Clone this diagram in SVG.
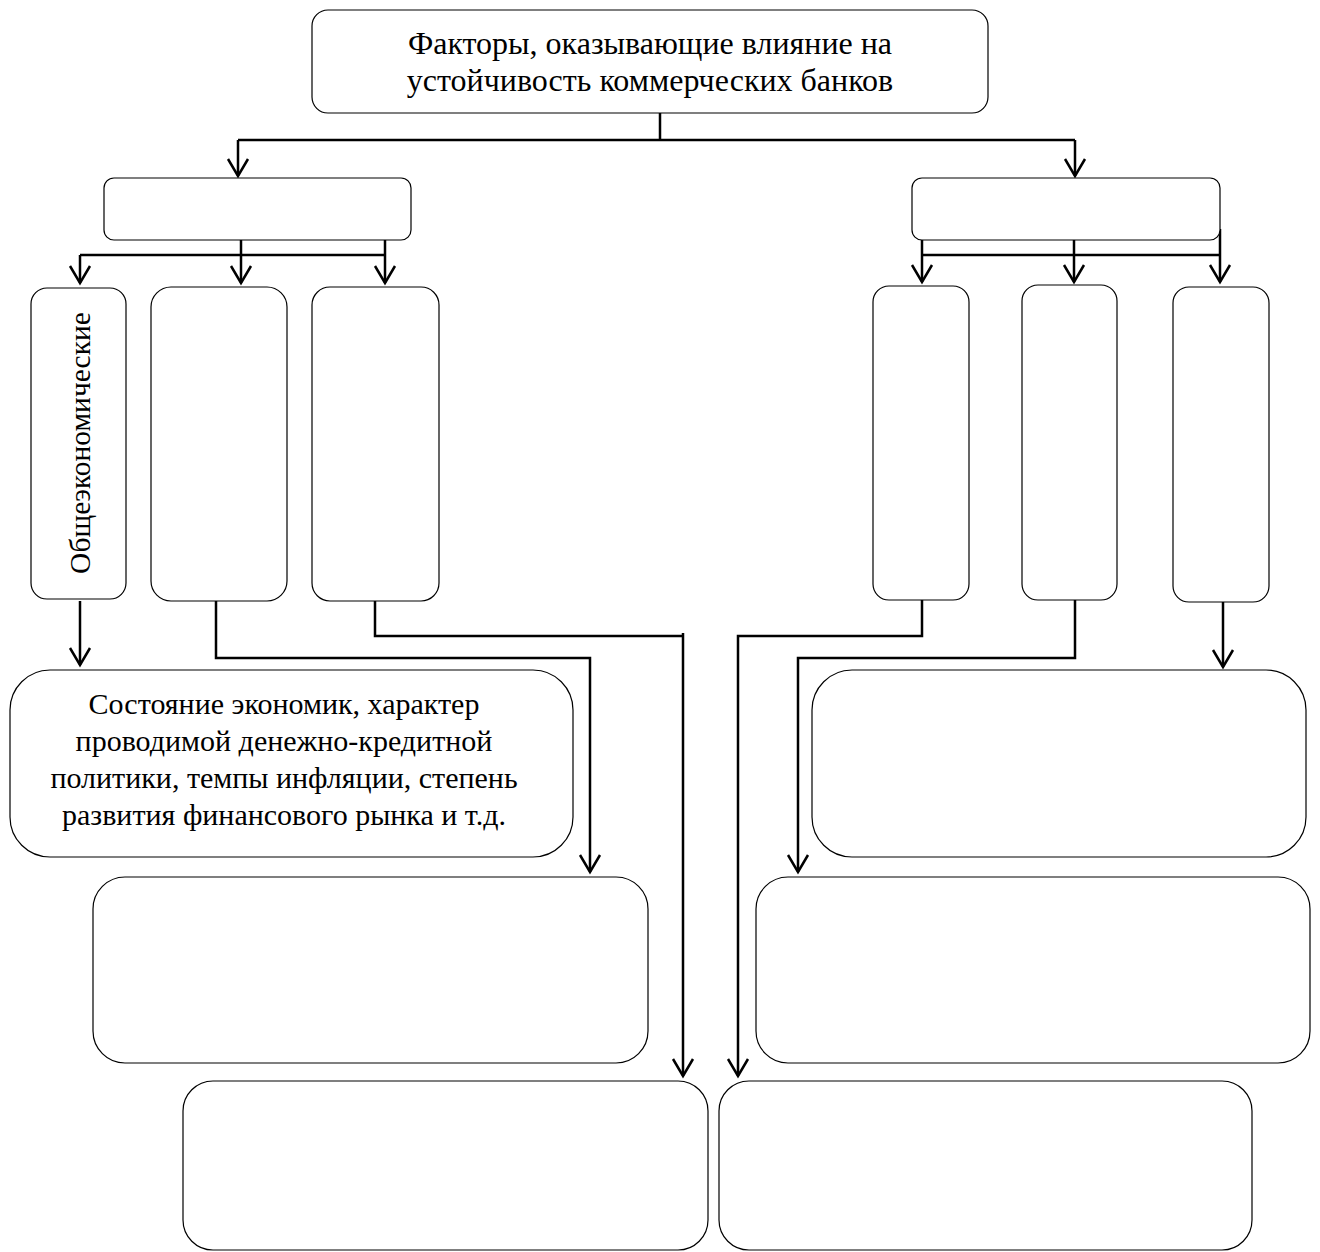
<svg xmlns="http://www.w3.org/2000/svg" width="1320" height="1252" viewBox="0 0 1320 1252">
<style>
.box{fill:#fff;stroke:#000;stroke-width:1.2}
.ln{fill:none;stroke:#000;stroke-width:2.5}
.t{font-family:"Liberation Serif","Times New Roman",serif;fill:#000;text-anchor:middle}
</style>
<defs>
<marker id="arr" markerUnits="userSpaceOnUse" viewBox="-20 -13 23 26" markerWidth="23" markerHeight="26" refX="0" refY="0" orient="auto">
<path d="M-17,-10 L0,0 L-17,10" fill="none" stroke="#000" stroke-width="2.5"/>
</marker>
</defs>
<rect width="1320" height="1252" fill="#fff"/>
<g id="connectors">
<path class="ln" d="M660,113 V140"/>
<path class="ln" d="M238,140 H1075"/>
<path class="ln" d="M238,140 V176" marker-end="url(#arr)"/>
<path class="ln" d="M1075,140 V176" marker-end="url(#arr)"/>
<path class="ln" d="M80,255 H385"/>
<path class="ln" d="M80,255 V283" marker-end="url(#arr)"/>
<path class="ln" d="M241,240 V283" marker-end="url(#arr)"/>
<path class="ln" d="M385,240 V283" marker-end="url(#arr)"/>
<path class="ln" d="M922,255 H1220"/>
<path class="ln" d="M922,240 V282" marker-end="url(#arr)"/>
<path class="ln" d="M1074,240 V282" marker-end="url(#arr)"/>
<path class="ln" d="M1220,229 V282" marker-end="url(#arr)"/>
<path class="ln" d="M80,601 V665" marker-end="url(#arr)"/>
<path class="ln" d="M216,601 V658 H590 V872" marker-end="url(#arr)"/>
<path class="ln" d="M375,601 V636 H683"/>
<path class="ln" d="M683,633 V1076" marker-end="url(#arr)"/>
<path class="ln" d="M922,600 V636 H738 V1076" marker-end="url(#arr)"/>
<path class="ln" d="M1075,600 V658 H798 V872" marker-end="url(#arr)"/>
<path class="ln" d="M1223,602 V667" marker-end="url(#arr)"/>
</g>
<g id="top">
<rect class="box" x="312" y="10" width="676" height="103" rx="16"/>
<text class="t" x="650" y="54" font-size="32">Факторы, оказывающие влияние на</text>
<text class="t" x="650" y="91" font-size="32">устойчивость коммерческих банков</text>
</g>
<g id="l2-left"><rect class="box" x="104" y="178" width="307" height="62" rx="10"/></g>
<g id="l2-right"><rect class="box" x="912" y="178" width="308" height="62" rx="10"/></g>
<g id="obshche">
<rect class="box" x="31" y="288" width="95" height="311" rx="16"/>
<text class="t" font-size="29.5" transform="translate(90,443) rotate(-90)">Общеэкономические</text>
</g>
<g id="l3-b"><rect class="box" x="151" y="287" width="136" height="314" rx="20"/></g>
<g id="l3-c"><rect class="box" x="312" y="287" width="127" height="314" rx="18"/></g>
<g id="r3-a"><rect class="box" x="873" y="286" width="96" height="314" rx="16"/></g>
<g id="r3-b"><rect class="box" x="1022" y="285" width="95" height="315" rx="16"/></g>
<g id="r3-c"><rect class="box" x="1173" y="287" width="96" height="315" rx="16"/></g>
<g id="state">
<rect class="box" x="10" y="670" width="563" height="187" rx="40"/>
<text class="t" font-size="30" x="284" y="714">Состояние экономик, характер</text>
<text class="t" font-size="30" x="284" y="751">проводимой денежно-кредитной</text>
<text class="t" font-size="30" x="284" y="788">политики, темпы инфляции, степень</text>
<text class="t" font-size="30" x="284" y="825">развития финансового рынка и т.д.</text>
</g>
<g id="r-top"><rect class="box" x="812" y="670" width="494" height="187" rx="40"/></g>
<g id="l-mid"><rect class="box" x="93" y="877" width="555" height="186" rx="32"/></g>
<g id="r-mid"><rect class="box" x="756" y="877" width="554" height="186" rx="32"/></g>
<g id="l-bot"><rect class="box" x="183" y="1081" width="525" height="169" rx="30"/></g>
<g id="r-bot"><rect class="box" x="719" y="1081" width="533" height="169" rx="30"/></g>
</svg>
